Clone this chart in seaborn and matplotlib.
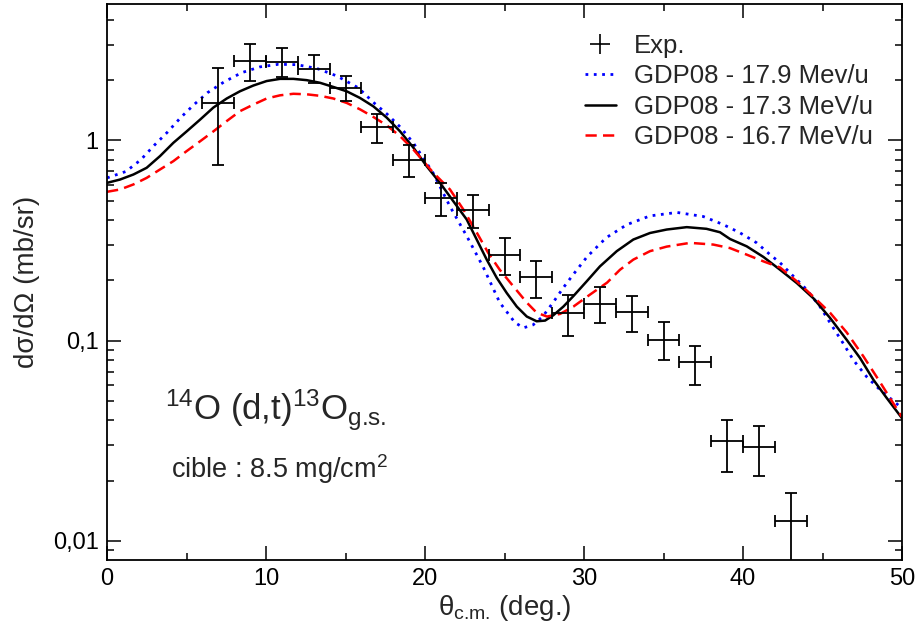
import seaborn as sns
import matplotlib
matplotlib.use('agg')
import matplotlib.pyplot as plt
from matplotlib.lines import Line2D
from matplotlib.ticker import FixedLocator, FixedFormatter, LogLocator, MultipleLocator, NullFormatter
import pandas as pd

# experimental points (theta c.m., dsigma/dOmega, error bounds)
exp_theta = [7, 9, 11, 13, 15, 17, 19, 21, 23, 25, 27, 29, 31, 33, 35, 37, 39, 41, 43]
exp_sigma = [1.53, 2.49, 2.47, 2.28, 1.83, 1.17, 0.80, 0.513, 0.449, 0.268, 0.207,
             0.138, 0.153, 0.139, 0.101, 0.078, 0.0314, 0.0293, 0.0126]
exp_hi = [2.29, 3.04, 2.91, 2.66, 2.11, 1.36, 0.95, 0.615, 0.531, 0.324, 0.251,
          0.169, 0.185, 0.167, 0.124, 0.0944, 0.0403, 0.0373, 0.0173]
exp_lo = [0.75, 1.98, 2.07, 1.94, 1.57, 0.97, 0.66, 0.418, 0.366, 0.214, 0.163,
          0.106, 0.122, 0.110, 0.0797, 0.0603, 0.0222, 0.0211, 0.0075]
exp_dtheta = 1.0

# GDP08 - 17.9 MeV/u
th_179 = [0, 1.19, 2.12, 2.96, 3.8, 4.63, 5.47, 6.31, 7.36, 8.47, 9.62, 10.78, 11.93,
          13.19, 14.45, 15.81, 16.79, 17.63, 18.47, 19.27, 20.5, 21.57, 22.64, 23.65,
          24.7, 25.66, 26.2, 26.8, 27.4, 28.05, 28.7, 29.3, 30.2, 31.4, 32.7, 34.15,
          35.85, 37.5, 38.76, 39.8, 40.86, 41.7, 42.33, 43.16, 44.0, 44.84, 45.47,
          46.3, 46.94, 47.78, 48.6, 50]
cs_179 = [0.65, 0.70, 0.80, 0.944, 1.10, 1.30, 1.51, 1.73, 1.96, 2.18, 2.33, 2.40, 2.39,
          2.29, 2.10, 1.83, 1.54, 1.35, 1.16, 0.97, 0.69, 0.468, 0.331, 0.234,
          0.155, 0.123, 0.116, 0.12, 0.132, 0.155, 0.184, 0.213, 0.263, 0.327, 0.38, 0.42,
          0.437, 0.417, 0.38, 0.346, 0.308, 0.269, 0.245, 0.21, 0.18, 0.148, 0.123,
          0.097, 0.080, 0.066, 0.057, 0.046]

# GDP08 - 17.3 MeV/u
th_173 = [0, 0.82, 1.66, 2.49, 3.33, 4.17, 5.01, 5.85, 6.69, 7.53, 8.36, 9.2, 10.04,
          10.88, 11.72, 12.56, 13.4, 14.23, 15.07, 15.91, 16.75, 17.59, 18.43, 19.27,
          20.1, 20.94, 21.78, 22.62, 23.25, 23.88, 24.51, 25.14, 25.77, 26.4, 27.02,
          27.55, 28.07, 28.7, 29.33, 30.17, 31.0, 32.06, 33.1, 34.15, 35.2, 36.46, 37.7,
          38.55, 39.18, 40.23, 41.28, 42.33, 43.38, 44.42, 45.47, 46.52, 47.36, 48.2,
          49.04, 50]
cs_173 = [0.614, 0.638, 0.676, 0.73, 0.835, 0.973, 1.11, 1.27, 1.46, 1.62, 1.76, 1.88, 1.98,
          2.03, 2.03, 2.0, 1.94, 1.85, 1.76, 1.63, 1.48, 1.30, 1.11, 0.92,
          0.744, 0.614, 0.497, 0.403, 0.32, 0.254, 0.206, 0.173, 0.148, 0.132, 0.125,
          0.126, 0.134, 0.148, 0.167, 0.198, 0.235, 0.28, 0.32, 0.345, 0.359, 0.369, 0.362,
          0.348, 0.322, 0.296, 0.262, 0.226, 0.194, 0.163, 0.13, 0.101, 0.0819, 0.0638,
          0.0517, 0.041]

# GDP08 - 16.7 MeV/u
th_167 = [0, 0.82, 1.66, 2.49, 3.33, 4.17, 5.01, 5.85, 6.69, 7.53, 8.36, 9.2, 10.04,
          10.88, 11.72, 12.56, 13.4, 14.23, 15.07, 15.91, 16.75, 17.59, 18.43, 19.27,
          20.52, 21.57, 22.41, 23.25, 23.98, 24.7, 25.55, 26.4, 27.02, 27.67, 28.49,
          29.33, 30.38, 31.45, 32.26, 33.1, 34.15, 35.2, 36.67, 38.13, 39.18, 40.23,
          41.28, 42.33, 43.38, 44.42, 45.47, 46.52, 47.57, 48.6, 50]
cs_167 = [0.554, 0.569, 0.603, 0.65, 0.716, 0.788, 0.885, 0.99, 1.11, 1.25, 1.40, 1.51, 1.62,
          1.68, 1.71, 1.70, 1.67, 1.62, 1.54, 1.43, 1.31, 1.19, 1.05, 0.90,
          0.69, 0.569, 0.452, 0.347, 0.274, 0.226, 0.187, 0.155, 0.138, 0.132, 0.136,
          0.148, 0.17, 0.195, 0.226, 0.254, 0.28, 0.295, 0.308, 0.302, 0.29, 0.269,
          0.249, 0.232, 0.198, 0.166, 0.138, 0.11, 0.0835, 0.0624, 0.0415]

ytick_values = [0.01, 0.1, 1]
ytick_labels = ['0,01', '0,1', '1']
legend_labels = ['Exp.', 'GDP08 - 17.9 Mev/u', 'GDP08 - 17.3 MeV/u', 'GDP08 - 16.7 MeV/u']

sns.set_theme(style="white")
plt.rcParams['font.family'] = ['Liberation Sans', 'DejaVu Sans']
plt.rcParams['mathtext.fontset'] = 'custom'
plt.rcParams['mathtext.rm'] = 'Liberation Sans'
plt.rcParams['mathtext.it'] = 'Liberation Sans'
plt.rcParams['mathtext.bf'] = 'Liberation Sans'

fig, ax = plt.subplots(figsize=(9.18, 6.39), dpi=100)
fig.subplots_adjust(left=0.1166, right=0.9826, top=0.9937, bottom=0.1236)

blue_style = dict(color='#0000ff', lw=2.0, linestyle=(0, (1, 2)))
black_style = dict(color='black', lw=1.8)
red_style = dict(color='#ff0000', lw=1.8, linestyle=(0, (4.5, 2.5)))

df179 = pd.DataFrame({'theta': th_179, 'cs': cs_179})
df173 = pd.DataFrame({'theta': th_173, 'cs': cs_173})
df167 = pd.DataFrame({'theta': th_167, 'cs': cs_167})

sns.lineplot(data=df179, x='theta', y='cs', ax=ax, legend=False, **blue_style)
sns.lineplot(data=df173, x='theta', y='cs', ax=ax, legend=False, **black_style)
sns.lineplot(data=df167, x='theta', y='cs', ax=ax, legend=False, **red_style)

yerr = [[s - l for s, l in zip(exp_sigma, exp_lo)], [h - s for s, h in zip(exp_sigma, exp_hi)]]
ax.errorbar(exp_theta, exp_sigma, xerr=exp_dtheta, yerr=yerr, fmt='none', ecolor='black',
            elinewidth=1.3, capsize=4.5, capthick=1.3, zorder=5)

ax.set_yscale('log')
ax.set_xlim(0, 50)
ax.set_ylim(0.00803, 4.8)

ax.xaxis.set_major_locator(MultipleLocator(10))
ax.xaxis.set_minor_locator(MultipleLocator(5))
ax.yaxis.set_major_locator(FixedLocator(ytick_values))
ax.yaxis.set_major_formatter(FixedFormatter(ytick_labels))
ax.yaxis.set_minor_locator(LogLocator(base=10, subs=range(2, 10)))
ax.yaxis.set_minor_formatter(NullFormatter())

ax.tick_params(which='both', direction='in', top=True, right=True, bottom=True, left=True,
               colors='black', labelsize=17, width=1.1)
ax.tick_params(which='major', length=10, pad=6)
ax.tick_params(which='minor', length=5)
for s in ax.spines.values():
    s.set_color('black')
    s.set_linewidth(1.3)

ax.set_xlabel(r'$\theta_{\text{c.m.}}$ (deg.)', fontsize=20, labelpad=2)
ax.set_ylabel('dσ/dΩ (mb/sr)', fontsize=20, labelpad=9)

ax.text(0.073, 0.252, r'$^{14}$O (d,t)$^{13}$O$_{\text{g.s.}}$', transform=ax.transAxes,
        fontsize=25, va='baseline', ha='left')
ax.text(0.081, 0.147, r'cible : 8.5 mg/cm$^{2}$', transform=ax.transAxes,
        fontsize=19.5, va='baseline', ha='left')

handles = [
    Line2D([], [], color='black', marker='+', markersize=14, markeredgewidth=1.2, linestyle='none'),
    Line2D([], [], **blue_style),
    Line2D([], [], **black_style),
    Line2D([], [], **red_style),
]
ax.legend(handles=handles, labels=legend_labels, loc='upper left', bbox_to_anchor=(0.601, 0.946),
          frameon=False, fontsize=18.5, handlelength=1.2, handletextpad=0.7, labelspacing=0.25,
          borderaxespad=0, borderpad=0)

fig.savefig('out.png', dpi=100)
